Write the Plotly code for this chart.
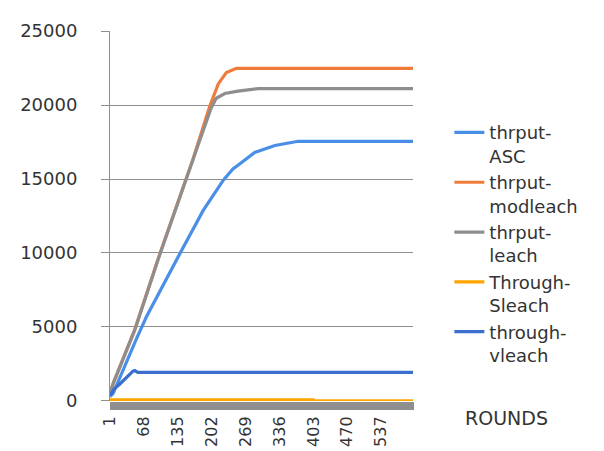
import plotly.graph_objects as go

# ---- data ----
asc_rounds = [1, 7, 53, 73, 139, 185, 225, 244, 254, 287, 327, 373, 600]
asc_vals = [300, 500, 4170, 5690, 9950, 12860, 14920, 15680, 15930, 16800, 17270, 17550, 17550]

mod_rounds = [1, 7, 50, 96, 165, 198, 215, 231, 251, 600]
mod_vals = [500, 1150, 4820, 9600, 16330, 19900, 21430, 22190, 22480, 22480]

leach_rounds = [1, 7, 50, 96, 165, 201, 211, 228, 254, 294, 600]
leach_vals = [500, 1150, 4800, 9550, 16300, 19800, 20460, 20780, 20940, 21110, 21110]

sleach_rounds = [1, 403, 404, 600]
sleach_vals = [80, 80, 10, 10]

vleach_rounds = [1, 10, 20, 30, 46, 50, 56, 600]
vleach_vals = [370, 830, 1130, 1460, 2000, 2050, 1930, 1930]

x_tickvals = [1, 68, 135, 202, 269, 336, 403, 470, 537]
x_ticktext = ["1", "68", "135", "202", "269", "336", "403", "470", "537"]
y_tickvals = [0, 5000, 10000, 15000, 20000, 25000]
y_ticktext = ["0", "5000", "10000", "15000", "20000", "25000"]

series = [
    ("thrput-<br>ASC", asc_rounds, asc_vals, "#4A8FE7"),
    ("thrput-<br>modleach", mod_rounds, mod_vals, "#F07C3C"),
    ("thrput-<br>leach", leach_rounds, leach_vals, "#8E8E8E"),
    ("Through-<br>Sleach", sleach_rounds, sleach_vals, "#FFA500"),
    ("through-<br>vleach", vleach_rounds, vleach_vals, "#3A6FD0"),
]

FONT = "DejaVu Sans"
TXT = "#333333"
GRID = "#8f8f8f"

fig = go.Figure()
for name, xs, ys, col in series:
    fig.add_trace(go.Scatter(x=xs, y=ys, mode="lines", name=name,
                             line=dict(color=col, width=3.2)))

fig.update_layout(
    width=604, height=451,
    margin=dict(l=102, r=199, t=17, b=50),
    paper_bgcolor="white", plot_bgcolor="white",
    font=dict(family=FONT, color=TXT, size=17),
    legend=dict(x=1.12, y=0.775, xanchor="left", yanchor="top",
                font=dict(family=FONT, size=18, color=TXT),
                valign="top", tracegroupgap=0, bgcolor="rgba(0,0,0,0)"),
    showlegend=True,
)

fig.update_xaxes(
    range=[1, 600], tickmode="array", tickvals=x_tickvals, ticktext=x_ticktext,
    tickangle=-90, ticks="outside", ticklen=8, tickcolor=GRID, tickwidth=1,
    minor=dict(ticks="outside", dtick=1, tick0=1, ticklen=8, tickcolor=GRID, tickwidth=1, showgrid=False),
    showgrid=False, zeroline=False, showline=False,
    tickfont=dict(family=FONT, size=16, color=TXT),
)
fig.update_yaxes(
    range=[-5, 25005], tickmode="array", tickvals=y_tickvals, ticktext=y_ticktext,
    ticks="outside", ticklen=8, tickcolor=GRID, tickwidth=1,
    showgrid=True, gridcolor=GRID, gridwidth=1,
    zeroline=False, showline=True, linecolor=GRID, linewidth=1,
    ticklabelstandoff=20,
    tickfont=dict(family=FONT, size=18, color=TXT),
)

fig.add_annotation(text="ROUNDS", xref="paper", yref="paper", x=1.31, y=-0.045,
                   xanchor="center", yanchor="middle", showarrow=False,
                   font=dict(family=FONT, size=19, color=TXT))

fig.write_html("out.html")
